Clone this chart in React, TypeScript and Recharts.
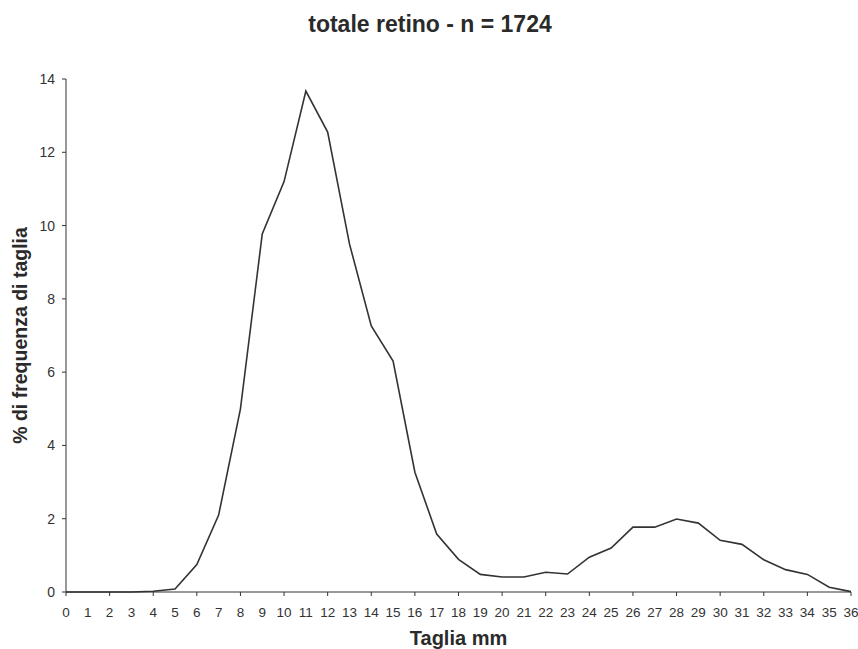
import { LineChart, Line, XAxis, YAxis, Label } from "recharts";

const sizes = [
  0, 1, 2, 3, 4, 5, 6, 7, 8, 9, 10, 11, 12, 13, 14, 15, 16, 17, 18, 19, 20,
  21, 22, 23, 24, 25, 26, 27, 28, 29, 30, 31, 32, 33, 34, 35, 36,
];
const freq = [
  0, 0, 0, 0, 0.02, 0.08, 0.75, 2.1, 5.0, 9.77, 11.2, 13.67, 12.55, 9.5, 7.26,
  6.3, 3.27, 1.58, 0.89, 0.48, 0.41, 0.41, 0.54, 0.49, 0.95, 1.2, 1.77, 1.77,
  1.99, 1.88, 1.41, 1.3, 0.88, 0.61, 0.48, 0.13, 0.01,
];
const yTicks = [0, 2, 4, 6, 8, 10, 12, 14];

const data = sizes.map((s, i) => ({ size: s, pct: freq[i] }));

const ink = "#333";
const font = "Liberation Sans, Arial, sans-serif";

function XTick(props: any) {
  const { x, y, payload } = props;
  const v = payload.value;
  return (
    <g>
      {v % 2 === 0 && (
        <line x1={x} x2={x} y1={y} y2={y + 4} stroke={ink} strokeWidth={1} />
      )}
      <text
        x={x}
        y={y + 25}
        textAnchor="middle"
        fontSize={13.5}
        fill={ink}
        fontFamily={font}
      >
        {v}
      </text>
    </g>
  );
}

export default function App() {
  return (
    <div style={{ position: "absolute", left: 0, top: 0, width: 858, height: 649, background: "#fff" }}>
      <div
        style={{
          position: "absolute",
          left: 0,
          top: 11,
          width: 860,
          textAlign: "center",
          fontFamily: font,
          fontWeight: "bold",
          fontSize: 23,
          lineHeight: "27px",
          color: "#2a2a2a",
        }}
      >
        totale retino - n = 1724
      </div>
      <LineChart
        width={858}
        height={649}
        data={data}
        margin={{ top: 79, right: 7, bottom: 0, left: 0 }}
        style={{ fontFamily: font }}
      >
        <XAxis
          dataKey="size"
          type="number"
          domain={[0, 36]}
          ticks={sizes}
          interval={0}
          tickLine={false}
          tickSize={0}
          tickMargin={0}
          stroke={ink}
          tick={<XTick />}
          height={57}
        >
          <Label
            value="Taglia mm"
            position="insideBottom"
            offset={4}
            style={{ fontWeight: "bold", fontSize: 20, fill: "#2a2a2a" }}
          />
        </XAxis>
        <YAxis
          type="number"
          domain={[0, 14]}
          ticks={yTicks}
          width={66}
          stroke={ink}
          tickSize={4}
          tickMargin={7}
          tick={{ fontSize: 14, fill: ink }}
        >
          <Label
            value="% di frequenza di taglia"
            angle={-90}
            position="insideLeft"
            offset={20}
            style={{ fontWeight: "bold", fontSize: 19.5, fill: "#2a2a2a", textAnchor: "middle" }}
          />
        </YAxis>
        <Line
          type="linear"
          dataKey="pct"
          stroke={ink}
          strokeWidth={1.6}
          dot={false}
          isAnimationActive={false}
        />
      </LineChart>
    </div>
  );
}
